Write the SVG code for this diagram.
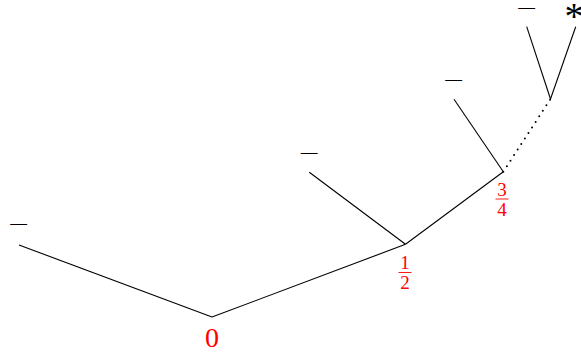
<svg xmlns="http://www.w3.org/2000/svg" width="581" height="354" viewBox="0 0 581 354">
<style>
.e{stroke:#000;stroke-width:1.1;fill:none}
.d{stroke:#000;stroke-width:2;fill:none;stroke-dasharray:0 6.6;stroke-linecap:round}
.m{font-family:"DejaVu Sans",sans-serif;font-weight:200;font-size:27px;fill:#000;text-anchor:middle}
.s{font-family:"Liberation Serif",serif;font-size:38px;fill:#000;text-anchor:middle}
.r{font-family:"Liberation Serif",serif;fill:#ff0000;text-anchor:middle}
.fb{stroke:#ff0000;stroke-width:0.9}
</style>
<rect width="581" height="354" fill="#fff"/>
<g id="connectors">
<line class="e" x1="212" y1="317" x2="19" y2="245"/>
<line class="e" x1="212" y1="317" x2="405.5" y2="244.3"/>
<line class="e" x1="405.5" y1="244.3" x2="309.3" y2="172.3"/>
<line class="e" x1="405.5" y1="244.3" x2="503.3" y2="171.7"/>
<line class="e" x1="503.3" y1="171.7" x2="454" y2="99.3"/>
<line class="d" x1="503.3" y1="171.7" x2="550.5" y2="99"/>
<line class="e" x1="550.5" y1="99" x2="526.7" y2="26.7"/>
<line class="e" x1="550.5" y1="99" x2="575.7" y2="26.7"/>
</g>
<g id="node-0"><text class="r" x="212" y="347" font-size="28">0</text></g>
<g id="node-half"><text class="r" x="405" y="269" font-size="19">1</text><line class="fb" x1="398.5" y1="272.5" x2="411.5" y2="272.5"/><text class="r" x="405" y="289" font-size="19">2</text></g>
<g id="node-threequarter"><text class="r" x="502" y="195.5" font-size="19">3</text><line class="fb" x1="495.5" y1="199" x2="508.5" y2="199"/><text class="r" x="502" y="215.5" font-size="19">4</text></g>
<g id="leaf-1"><text class="m" x="18.5" y="233">−</text></g>
<g id="leaf-2"><text class="m" x="309" y="162">−</text></g>
<g id="leaf-3"><text class="m" x="453.5" y="89">−</text></g>
<g id="leaf-4"><text class="m" x="526.5" y="16.5">−</text></g>
<g id="leaf-5"><text class="s" x="574" y="29">*</text></g>
</svg>
